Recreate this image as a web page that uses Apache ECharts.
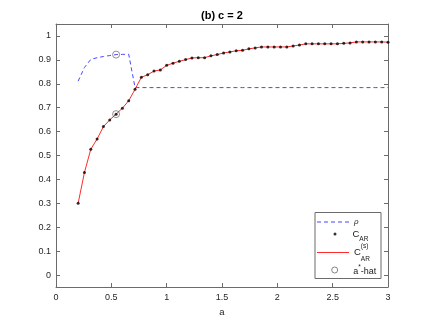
<!DOCTYPE html>
<html>
<head>
<meta charset="utf-8">
<script src="https://cdn.jsdelivr.net/npm/echarts@6/dist/echarts.min.js"></script>
<style>
html,body{margin:0;padding:0;background:#fff;}
#chart{width:429px;height:322px;}
</style>
</head>
<body>
<div id="chart"></div>
<script>
// a values (x axis)
var aValues = [0.2,0.2571,0.3143,0.3714,0.4286,0.4857,0.5429,0.6,0.6571,0.7143,
  0.7714,0.8286,0.8857,0.9429,1.0,1.0571,1.1143,1.1714,1.2286,1.2857,
  1.3429,1.4,1.4571,1.5143,1.5714,1.6286,1.6857,1.7429,1.8,1.8571,
  1.9143,1.9714,2.0286,2.0857,2.1429,2.2,2.2571,2.3143,2.3714,2.4286,
  2.4857,2.5429,2.6,2.6571,2.7143,2.7714,2.8286,2.8857,2.9429,3.0];
// rho (blue dashed)
var rhoValues = [0.811,0.868,0.902,0.909,0.914,0.918,0.922,0.923,0.923,0.784,
  0.784,0.784,0.784,0.784,0.784,0.784,0.784,0.784,0.784,0.784,
  0.784,0.784,0.784,0.784,0.784,0.784,0.784,0.784,0.784,0.784,
  0.784,0.784,0.784,0.784,0.784,0.784,0.784,0.784,0.784,0.784,
  0.784,0.784,0.784,0.784,0.784,0.784,0.784,0.784,0.784,0.784];
// C_AR (black dots) and smoothed C_AR^(s) (red line)
var cARValues = [0.300,0.429,0.526,0.569,0.621,0.649,0.673,0.698,0.729,0.777,
  0.827,0.838,0.853,0.858,0.877,0.886,0.894,0.901,0.908,0.909,
  0.909,0.917,0.922,0.929,0.933,0.938,0.940,0.946,0.950,0.954,
  0.954,0.954,0.954,0.954,0.958,0.962,0.967,0.967,0.967,0.967,
  0.967,0.967,0.969,0.971,0.975,0.975,0.975,0.975,0.975,0.974];
// a*-hat markers
var hatA = [0.5429, 0.5429];
var hatValues = [0.922, 0.673];
// tick labels
var xTicks = [0, 0.5, 1, 1.5, 2, 2.5, 3];
var yTicks = [0, 0.1, 0.2, 0.3, 0.4, 0.5, 0.6, 0.7, 0.8, 0.9, 1];

function zip(xs, ys){ return xs.map(function(x,i){ return [x, ys[i]]; }); }

var FONT = 'Liberation Sans';
var axisColor = '#6b6b6b';
var labelColor = '#262626';

var chart = echarts.init(document.getElementById('chart'), null, {renderer:'canvas'});

function xAx(pos, show){
  return {
    type:'value', position:pos, min:0, max:3, interval:0.5,
    axisLine:{show:true, onZero:false, lineStyle:{color:axisColor, width:1}},
    axisTick:{show:true, inside:true, length:4, lineStyle:{color:axisColor}},
    axisLabel:{show:show, fontSize:9, fontFamily:FONT, color:labelColor, margin:6,
      formatter:function(v){ return String(v); }},
    splitLine:{show:false},
    name: show ? 'a' : '', nameLocation:'middle', nameGap:20,
    nameTextStyle:{fontSize:9.5, fontFamily:FONT, color:labelColor}
  };
}
function yAx(pos, show){
  return {
    type:'value', position:pos, min:-0.05, max:1.05,
    axisLine:{show:true, onZero:false, lineStyle:{color:axisColor, width:1}},
    axisTick:{show:true, inside:true, length:4, customValues:yTicks, lineStyle:{color:axisColor}},
    axisLabel:{show:show, fontSize:9, fontFamily:FONT, color:labelColor, margin:5,
      customValues:yTicks, formatter:function(v){ return String(Math.round(v*10)/10); }},
    splitLine:{show:false}
  };
}

var textBase = {fontFamily:FONT, color:'#1a1a1a'};
function legendAt(name, left, top, itemW, itemH, formatter, rich, itemStyle){
  var l = {
    data:[name], orient:'vertical', left:left, top:top, padding:0,
    itemWidth:itemW, itemHeight:itemH, z:20,
    formatter:formatter,
    lineStyle:{width:1},
    textStyle:{fontFamily:FONT, fontSize:9, color:'#1a1a1a', rich:rich},
    selectedMode:false
  };
  if (itemStyle) l.itemStyle = itemStyle;
  return l;
}

var option = {
  animation:false,
  backgroundColor:'#fff',
  title:{text:'(b) c = 2', left:201, top:10, padding:0,
    textStyle:{fontSize:11, fontWeight:'bold', fontFamily:FONT, color:'#000'}},
  grid:{left:56, right:41, top:24, bottom:35, containLabel:false},
  xAxis:[xAx('bottom', true), xAx('top', false)],
  yAxis:[yAx('left', true), yAx('right', false)],
  legend:[
    legendAt('rho', 316.5, 218, 32, 8, function(){ return '{r|ρ}'; },
      {r:{fontSize:8, fontStyle:'italic', fontFamily:FONT, color:'#1a1a1a', lineHeight:10}}, {opacity:0}),
    legendAt('CAR', 333.5, 229, 25, 3, function(){ return '{c|C}{s|AR}'; },
      {c:Object.assign({fontSize:9.5, lineHeight:18, verticalAlign:'middle'}, textBase),
       s:Object.assign({fontSize:6.5, lineHeight:8, verticalAlign:'bottom'}, textBase)}),
    legendAt('CARs', 316.5, 242.5, 32, 4, function(){ return '{c|C}{p|(s)}{s|AR}'; },
      {c:Object.assign({fontSize:9.5, lineHeight:20, verticalAlign:'middle'}, textBase),
       p:Object.assign({fontSize:6.5, lineHeight:11, verticalAlign:'top', width:0.01}, textBase),
       s:Object.assign({fontSize:6.5, lineHeight:5, verticalAlign:'bottom'}, textBase)}, {opacity:0}),
    legendAt('hat', 331.3, 264, 27, 6, function(){ return '{a|a}{t|*}{a|-hat}'; },
      {a:Object.assign({fontSize:9, lineHeight:12, verticalAlign:'bottom'}, textBase),
       t:Object.assign({fontSize:6.5, lineHeight:8, verticalAlign:'top'}, textBase)},
      {color:'rgba(0,0,0,0)', borderColor:'#444', borderWidth:0.8})
  ],
  graphic:[{
    type:'rect', z:10, silent:true,
    shape:{x:315, y:212.5, width:66, height:66},
    style:{fill:'#fff', stroke:'#6b6b6b', lineWidth:1}
  }],
  series:[
    {name:'rho', type:'line', data:zip(aValues, rhoValues), symbol:'none', z:2,
      lineStyle:{color:'#4747ff', width:1, type:[4,3]}, itemStyle:{color:'#4747ff'}},
    {name:'CARs', type:'line', data:zip(aValues, cARValues), symbol:'none', z:3,
      lineStyle:{color:'#ff2b2b', width:1}, itemStyle:{color:'#ff2b2b'}},
    {name:'CAR', type:'scatter', data:zip(aValues, cARValues), symbol:'circle', symbolSize:3, z:4,
      itemStyle:{color:'#000'}},
    {name:'hat', type:'scatter', data:zip(hatA, hatValues), symbol:'circle', symbolSize:7, z:5,
      itemStyle:{color:'rgba(0,0,0,0)', borderColor:'#555', borderWidth:0.8}}
  ]
};
chart.setOption(option);
</script>
</body>
</html>
